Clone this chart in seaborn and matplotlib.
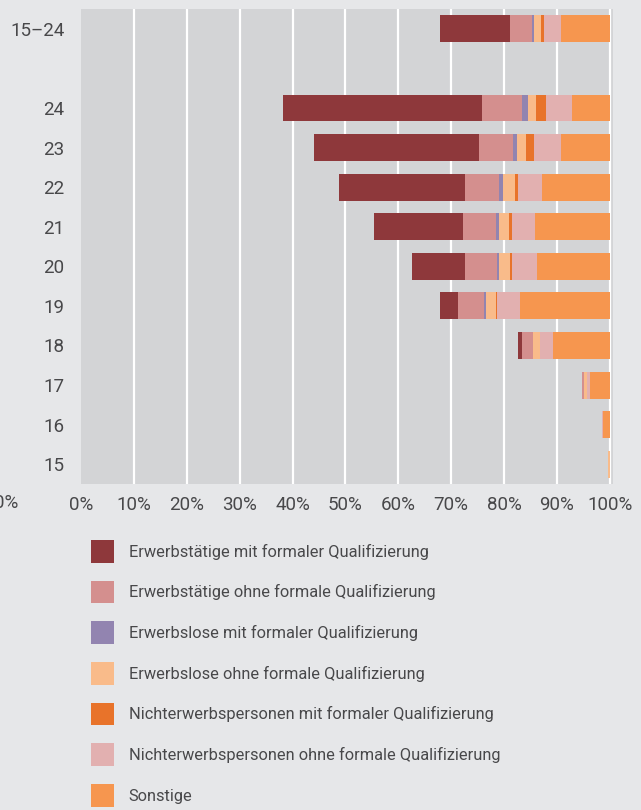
import numpy as np
import pandas as pd
import matplotlib
matplotlib.use("Agg")
import matplotlib.pyplot as plt
from matplotlib.patches import Patch
import seaborn as sns

# ---------------- data ----------------
ages = ["15–24", "24", "23", "22", "21", "20", "19", "18", "17", "16", "15"]
order = ["15–24", " ", "24", "23", "22", "21", "20", "19", "18", "17", "16", "15"]

# share not shown (left, empty part of each bar)
not_shown = [67.9, 38.2, 44.0, 48.8, 55.4, 62.6, 67.8, 82.6, 94.7, 98.5, 99.7]

series_names = [
    "Erwerbstätige mit formaler Qualifizierung",
    "Erwerbstätige ohne formale Qualifizierung",
    "Erwerbslose mit formaler Qualifizierung",
    "Erwerbslose ohne formale Qualifizierung",
    "Nichterwerbspersonen mit formaler Qualifizierung",
    "Nichterwerbspersonen ohne formale Qualifizierung",
    "Sonstige",
]
erw_mit = [13.2, 37.7, 31.2, 23.8, 16.8, 10.0, 3.5, 0.8, 0.1, 0.0, 0.0]
erw_ohne = [4.1, 7.4, 6.5, 6.4, 6.2, 6.1, 5.0, 2.1, 0.4, 0.0, 0.0]
el_mit = [0.4, 1.2, 0.8, 0.8, 0.6, 0.4, 0.2, 0.0, 0.0, 0.0, 0.0]
el_ohne = [1.4, 1.6, 1.6, 2.2, 1.9, 2.1, 2.0, 1.3, 0.4, 0.0, 0.3]
new_mit = [0.5, 1.9, 1.6, 0.6, 0.6, 0.3, 0.1, 0.0, 0.0, 0.0, 0.0]
new_ohne = [3.2, 4.9, 5.1, 4.6, 4.3, 4.8, 4.4, 2.4, 0.6, 0.2, 0.0]
sonstige = [9.3, 7.1, 9.2, 12.8, 14.2, 13.7, 17.0, 10.8, 3.8, 1.3, 0.0]

series_values = [erw_mit, erw_ohne, el_mit, el_ohne, new_mit, new_ohne, sonstige]
colors = ["#8e383b", "#d48f8e", "#9284b0", "#f9bb8a", "#e8732a", "#e2b0b0", "#f6964f"]

xticks = [0, 10, 20, 30, 40, 50, 60, 70, 80, 90, 100]
xticklabels = ["0%", "10%", "20%", "30%", "40%", "50%", "60%", "70%", "80%", "90%", "100%"]

# ---------------- style ----------------
sns.set_theme(style="white")
fam = ["Roboto", "DejaVu Sans"]
plt.rcParams["font.family"] = fam
txt_color = "#48484a"
fig_bg = "#e6e7e9"
ax_bg = "#d3d4d6"
tick_fs = 13.5
leg_fs = 11.8

fig = plt.figure(figsize=(6.41, 8.10), dpi=100, facecolor=fig_bg)
ax = fig.add_axes([81 / 641, 1 - 484 / 810, (613 - 81) / 641, (484 - 9) / 810])
ax.set_facecolor(ax_bg)

df = pd.DataFrame({"age": ages, "base": not_shown})
for name, vals in zip(series_names, series_values):
    df[name] = vals

left = np.array(not_shown, dtype=float)
for name, vals, col in zip(series_names, series_values, colors):
    sns.barplot(data=df, x=name, y="age", order=order, orient="y",
                color=col, saturation=1, width=0.68, left=left.copy(),
                edgecolor="none", linewidth=0, ax=ax, zorder=3)
    left = left + np.array(vals, dtype=float)

ax.set_xlim(0, 100.6)
ax.set_ylim(len(order) - 0.5, -0.5)
ax.set_xticks(xticks)
ax.set_xticklabels(xticklabels)
for x in xticks[1:]:
    ax.axvline(x, color="white", lw=1.6, zorder=1)
ax.grid(False)
for s in ax.spines.values():
    s.set_visible(False)
ax.set_xlabel("")
ax.set_ylabel("")
ax.tick_params(axis="both", length=0, labelsize=tick_fs, colors=txt_color)
ax.tick_params(axis="y", pad=12)
ax.tick_params(axis="x", pad=9)

# cut-off label at the far left edge
fig.text(18.5 / 641, 1 - 503 / 810, "0%", ha="right", va="center",
         fontsize=tick_fs, color=txt_color)

handles = [Patch(facecolor=c, edgecolor="none") for c in colors]
leg = fig.legend(handles, series_names, loc="upper left",
                 bbox_to_anchor=(91 / 641, 1 - 540 / 810),
                 frameon=False, fontsize=leg_fs, handlelength=1.4, handleheight=1.75,
                 handletextpad=0.9, labelspacing=1.1, borderpad=0, borderaxespad=0)
for t in leg.get_texts():
    t.set_color(txt_color)

fig.savefig("out.png", dpi=100, facecolor=fig_bg)
